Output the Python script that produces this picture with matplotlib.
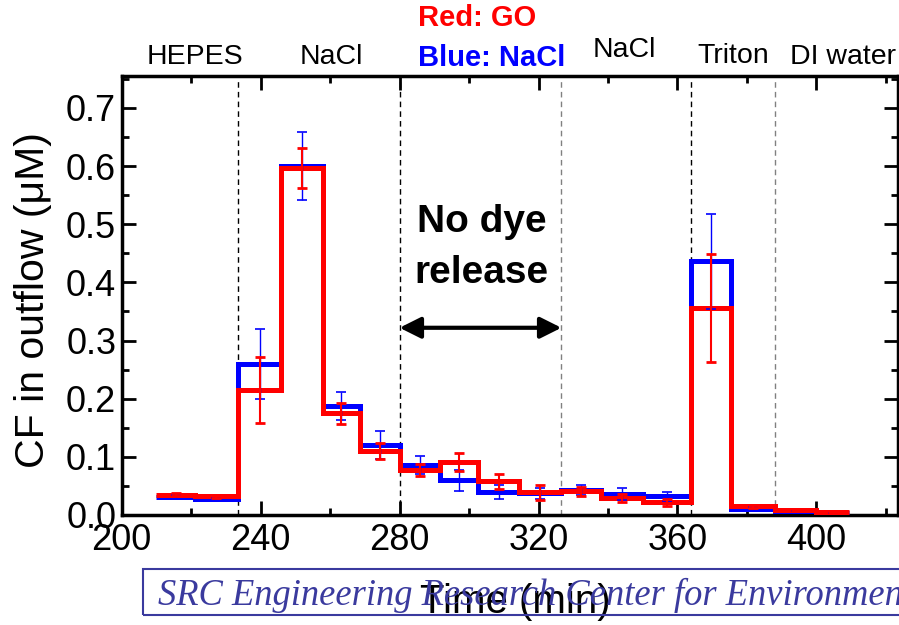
import matplotlib
matplotlib.use("Agg")
from matplotlib import pyplot as plt
from matplotlib.ticker import MultipleLocator
from matplotlib.patches import Rectangle

# step edges (min) and mean CF values
edges = [210, 221, 233.5, 246, 258, 268.5, 280, 291.5, 302.7, 314.4, 326.6,
         338.1, 350.1, 364, 375.5, 388, 400, 409.5]
blue_vals = [0.031, 0.027, 0.26, 0.60, 0.187, 0.12, 0.086, 0.06, 0.04, 0.037,
             0.043, 0.036, 0.032, 0.436, 0.010, 0.007, 0.004]
red_vals = [0.035, 0.032, 0.215, 0.597, 0.175, 0.11, 0.077, 0.091, 0.058, 0.039,
            0.041, 0.029, 0.022, 0.356, 0.015, 0.009, 0.005]
blue_err = [0.003, 0.003, 0.06, 0.058, 0.024, 0.024, 0.016, 0.018, 0.012, 0.010,
            0.009, 0.010, 0.008, 0.082, 0.003, 0.0, 0.0]
red_err = [0.003, 0.002, 0.057, 0.035, 0.018, 0.013, 0.010, 0.015, 0.013, 0.013,
           0.008, 0.007, 0.006, 0.093, 0.003, 0.0, 0.0]

# solution changes (dashed lines) and labels above the plot
switch_times = [233.5, 280, 326.6, 364, 388]
switch_colors = ['black', 'black', 'gray', 'black', 'gray']
phase_labels = ['HEPES', 'NaCl', 'NaCl', 'Triton', 'DI water']
phase_x = [195, 331, 624, 733, 843]
phase_y = [57, 57, 50, 56, 57]

W, H = 899, 625
plt.rcParams['font.family'] = ['Liberation Sans', 'DejaVu Sans']
fig = plt.figure(figsize=(W / 100, H / 100), dpi=100)
ax = fig.add_axes([121.7 / W, 1 - 515 / H, (898 - 121.7) / W, (515 - 76) / H])

mids = [(edges[i] + edges[i + 1]) / 2 for i in range(len(blue_vals))]

ax.stairs(blue_vals, edges, baseline=None, color='#0000ff', lw=3.6, zorder=3)
ax.stairs(red_vals, edges, baseline=None, color='#ff0000', lw=3.6, zorder=4)
ax.errorbar(mids, blue_vals, yerr=blue_err, fmt='none', ecolor='#0000ff',
            elinewidth=1.0, capsize=3.5, capthick=1.2, zorder=5)
ax.errorbar(mids, red_vals, yerr=red_err, fmt='none', ecolor='#ff0000',
            elinewidth=1.5, capsize=3.5, capthick=2, zorder=6)

for t, c in zip(switch_times, switch_colors):
    ax.axvline(t, color=c, lw=1.0, ls=(0, (4, 3)), zorder=1)

ax.annotate('', xy=(280, 0.322), xytext=(326.6, 0.322),
            arrowprops=dict(arrowstyle='<|-|>', color='black', lw=3,
                            mutation_scale=32, shrinkA=0, shrinkB=0))
ax.text(303.7, 0.504, 'No dye', fontsize=28, fontweight='bold',
        ha='center', va='center')
ax.text(303.7, 0.416, 'release', fontsize=28, fontweight='bold',
        ha='center', va='center')

ax.set_xlim(200, 423.5)
ax.set_ylim(0, 0.755)
ax.set_xticks([200, 240, 280, 320, 360, 400])
ax.set_yticks([0.0, 0.1, 0.2, 0.3, 0.4, 0.5, 0.6, 0.7])
ax.set_yticklabels(['0.0', '0.1', '0.2', '0.3', '0.4', '0.5', '0.6', '0.7'])
ax.xaxis.set_minor_locator(MultipleLocator(20))
ax.yaxis.set_minor_locator(MultipleLocator(0.05))
ax.tick_params(which='both', direction='in', top=True, right=True,
               labelsize=26)
ax.tick_params(axis='x', pad=6)
ax.tick_params(axis='y', pad=4)
ax.tick_params(which='major', length=10, width=2)
ax.tick_params(which='minor', length=5, width=2)
for s in ax.spines.values():
    s.set_linewidth(2.5)

ax.set_ylabel('CF in outflow (\u03bcM)', fontsize=29.5)
ax.yaxis.set_label_coords(-0.09, 0.49)
ax.set_xlabel('Time (min)', fontsize=29, zorder=10)
ax.xaxis.set_label_coords(0.5067, -0.155)

for lab, x, y in zip(phase_labels, phase_x, phase_y):
    fig.text(x / W, 1 - y / H, lab, fontsize=20.5, ha='center', va='center')
fig.text(477 / W, 1 - 18 / H, 'Red: GO', color='#ff0000', fontsize=21,
         fontweight='bold', ha='center', va='center')
fig.text(492 / W, 1 - 58 / H, 'Blue: NaCl', color='#0000ff', fontsize=21,
         fontweight='bold', ha='center', va='center')

# watermark banner
fig.patches.append(Rectangle((143 / W, 1 - 615 / H), 1, 46 / H,
                             transform=fig.transFigure, fill=False,
                             edgecolor='#3a3a9e', lw=1.5, zorder=0))
fig.text(158 / W, 1 - 595 / H,
         'SRC Engineering Research Center for Environmentally Benign',
         family='Liberation Serif', style='italic', color='#3a3a9e',
         fontsize=26.3, ha='left', va='center', zorder=0)

fig.savefig('out.png', dpi=100)
